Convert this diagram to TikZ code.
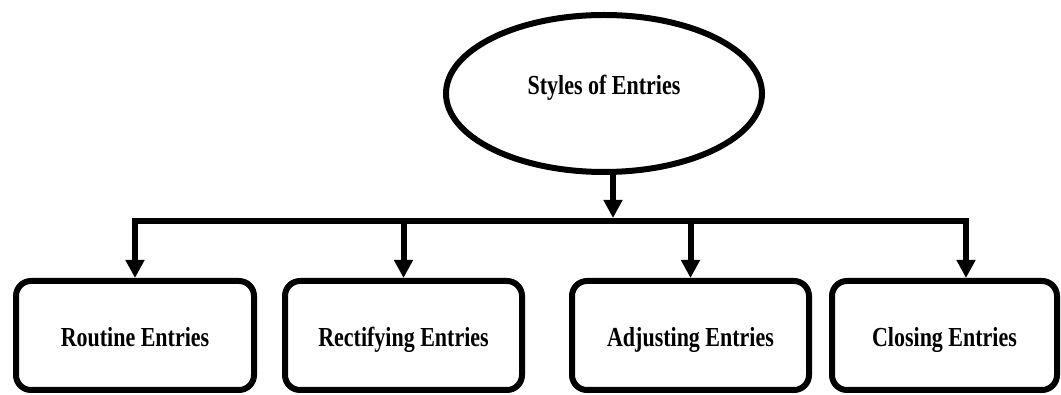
\documentclass[tikz,border=0pt]{standalone}
\usepackage{fontspec}
\newfontfamily\entryfont{Liberation Serif}[FakeStretch=0.8]
\usetikzlibrary{arrows.meta,shapes.geometric}
\begin{document}
\begin{tikzpicture}[x=1pt,y=-1pt]
\tikzstyle{every node} = [font=\entryfont\bfseries\fontsize{27.5}{30}\selectfont,draw,line width=6pt,inner sep=0];
\tikzstyle{flow} = [line width=6pt,-{Triangle[width=18pt,length=18pt]}];
\useasboundingbox (0,0) rectangle (1061,395);
\node at (604,93.5) [ellipse,minimum width=316,minimum height=157,text height=19pt,text depth=16pt] (styles) {Styles of Entries};
\foreach \x/\w/\n/\t in {135/238/routine/Routine, 403.5/237/rectifying/Rectifying, 690.5/237/adjusting/Adjusting, 944.5/225/closing/Closing}{
	\node at (\x,335.5) [rounded corners=15pt,minimum width=\w,minimum height=109,text height=23pt,text depth=0pt] (\n) {\t\ Entries};
}
\coordinate (bus) at (613,221);
\draw [flow] ([xshift=9pt]styles.south) -- ([yshift=3pt]bus);
\foreach \n in {routine, rectifying, adjusting}{
	\draw [flow] (bus) -| (\n.north);}
\draw [flow] (bus) -| ([xshift=21.5pt]closing.north);
\end{tikzpicture}
\end{document}
